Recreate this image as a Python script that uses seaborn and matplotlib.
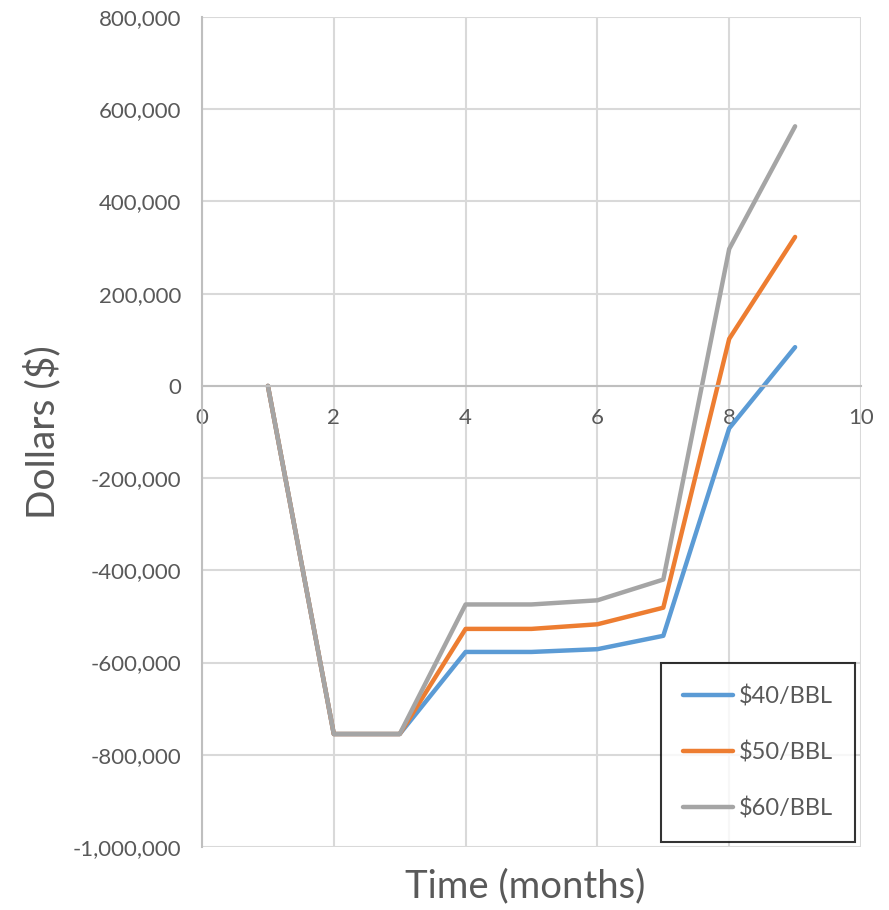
import matplotlib
matplotlib.use("Agg")
import matplotlib.pyplot as plt
import seaborn as sns
import pandas as pd
from matplotlib.ticker import FuncFormatter, MultipleLocator

months = [1, 2, 3, 4, 5, 6, 7, 8, 9]
p40 = [0, -755000, -755000, -577000, -577000, -571000, -542000, -92000, 84000]
p50 = [0, -755000, -755000, -527000, -527000, -517000, -481000, 102000, 323000]
p60 = [0, -755000, -755000, -474000, -474000, -465000, -420000, 297000, 563000]
series_names = ["$40/BBL", "$50/BBL", "$60/BBL"]
colors = ["#5B9BD5", "#ED7D31", "#A5A5A5"]

rows = []
for name, vals in zip(series_names, [p40, p50, p60]):
    for m, v in zip(months, vals):
        rows.append({"month": m, "value": v, "series": name})
df = pd.DataFrame(rows)

sns.set_theme(style="white")
plt.rcParams['font.family'] = ['Lato', 'DejaVu Sans']
plt.rcParams['axes.formatter.use_mathtext'] = False

fig = plt.figure(figsize=(8.89, 9.10), dpi=100)
ax = fig.add_axes([202/889, 1-847/910, (861-202)/889, (847-17)/910])

sns.lineplot(data=df, x="month", y="value", hue="series", palette=colors,
             linewidth=3.2, ax=ax, legend=True)

ax.set_xlim(0, 10)
ax.set_ylim(-1000000, 800000)
ax.xaxis.set_major_locator(MultipleLocator(2))
ax.yaxis.set_major_locator(MultipleLocator(200000))
ax.yaxis.set_major_formatter(FuncFormatter(lambda v, p: f"{int(round(v)):,}"))

ax.grid(True, color="#D9D9D9", linewidth=1.5)
ax.set_axisbelow(True)
for s in ["top", "right"]:
    ax.spines[s].set_visible(False)
ax.spines["left"].set_color("#BFBFBF")
ax.spines["left"].set_linewidth(1.5)
ax.spines["bottom"].set_position(("data", 0))
ax.spines["bottom"].set_color("#BFBFBF")
ax.spines["bottom"].set_linewidth(1.5)
ax.tick_params(axis="both", length=0, labelsize=16, labelcolor="#595959")
ax.tick_params(axis="x", pad=16)
ax.tick_params(axis="y", pad=15)

ax.set_xlabel("Time (months)", fontsize=27.5, color="#595959")
ax.set_ylabel("Dollars ($)", fontsize=28, color="#595959")
ax.xaxis.label.set_va("center")
ax.yaxis.label.set_va("center")
ax.xaxis.set_label_coords((525 - 202) / 659, (847 - 886) / 830)
ax.yaxis.set_label_coords((42 - 202) / 659, 0.5)

leg = ax.legend(loc="lower right", bbox_to_anchor=(0.991, 0.006), fontsize=17,
                frameon=True, fancybox=False, edgecolor="black",
                handlelength=2.1, handletextpad=0.25, labelspacing=1.45,
                borderpad=0.95, borderaxespad=0)
leg.get_frame().set_linewidth(1.5)
for t in leg.get_texts():
    t.set_color("#595959")

fig.savefig("out.png", dpi=100)
